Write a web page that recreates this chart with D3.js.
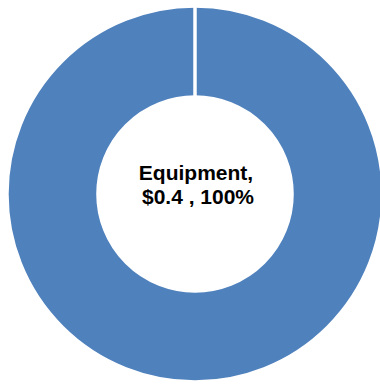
<!DOCTYPE html>
<html><head><meta charset="utf-8">
<script src="https://cdn.jsdelivr.net/npm/d3@7"></script>
<style>body{margin:0;background:#fff}svg{display:block}</style>
</head><body>
<svg id="c" width="380" height="385"></svg>
<script>
const categories = ["Equipment"];
const values = [0.4];
const percents = ["100%"];
const colors = ["#4F81BD"];

const svg = d3.select("#c");
const cx = 195, cy = 194, R = 188, r = 97;
const g = svg.append("g").attr("transform", `translate(${cx},${cy})`);
const pie = d3.pie().sort(null).value(d => d.v);
const data = categories.map((c, i) => ({c, v: values[i], p: percents[i], col: colors[i]}));
const arc = d3.arc().innerRadius(r).outerRadius(R);
g.selectAll("path").data(pie(data)).join("path")
  .attr("d", arc).attr("fill", d => d.data.col)
  .attr("stroke", "#fff").attr("stroke-width", 3.5).attr("stroke-linejoin", "miter");
// white separator at slice boundary (top)
g.selectAll("line.sep").data(pie(data)).join("line").attr("class", "sep")
  .attr("x1", 0).attr("y1", -r - 1).attr("x2", 0).attr("y2", -R - 2)
  .attr("stroke", "#fff").attr("stroke-width", 3.5);

const t = g.selectAll("text.lbl").data(data).join("text").attr("class", "lbl")
  .attr("text-anchor", "middle")
  .style("font-family", "Liberation Sans, Arial, sans-serif")
  .style("font-weight", "bold").style("font-size", "21px").attr("fill", "#000");
t.append("tspan").attr("x", 1).attr("y", -14).text(d => d.c + ",");
t.append("tspan").attr("x", 3).attr("y", 10).text(d => `$${d.v} , ${d.p}`);
</script>
</body></html>
